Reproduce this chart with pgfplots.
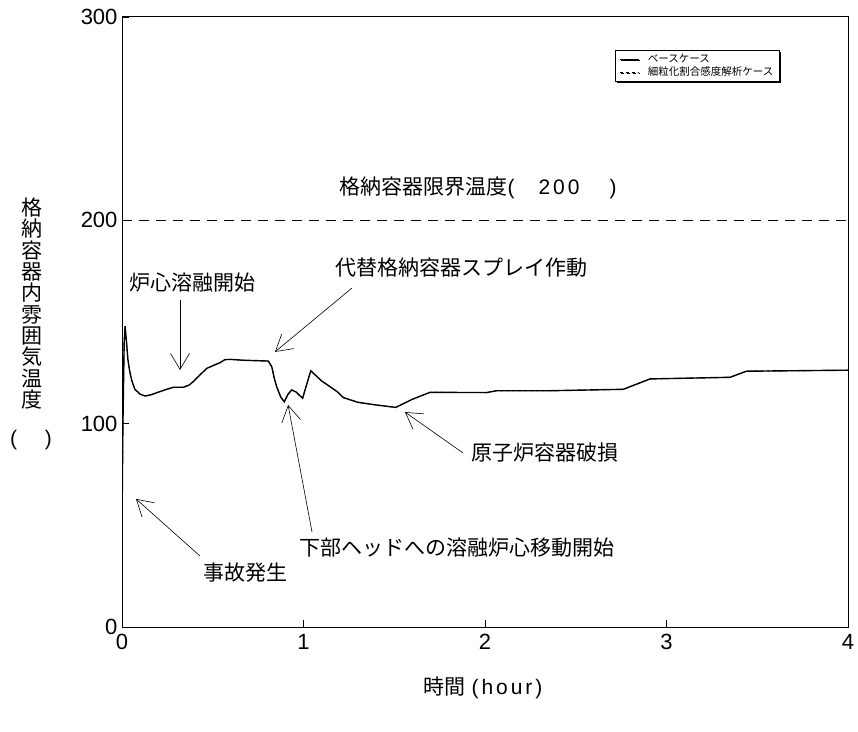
\documentclass[border=0pt]{standalone}
\usepackage{pgfplots}
\pgfplotsset{compat=1.18}
\usepackage{pgfplotstable}
\usepackage{fontspec}
\setmainfont{Liberation Sans}
\newfontfamily\jp{Noto Sans CJK JP}
\newfontfamily\lsfont[LetterSpace=14]{Liberation Sans}
\usetikzlibrary{arrows.meta,shadows}
\pgfplotstableread{
x y
0 50
0.005 100
0.012 140
0.017 148
0.025 140
0.032 132
0.042 126
0.053 121.5
0.07 117
0.1 114.5
0.127 113.6
0.16 114.2
0.2 115.5
0.25 117
0.283 117.9
0.338 117.9
0.37 119
0.393 120.7
0.43 124
0.467 127.2
0.5 128.5
0.54 130
0.567 131.5
0.6 131.6
0.668 131.2
0.806 130.8
0.825 128
0.84 122
0.852 118.2
0.875 113
0.894 110.8
0.915 114.5
0.935 116.6
0.96 115.5
0.995 112.5
1.02 120
1.04 126
1.07 123.5
1.1 121
1.146 118.2
1.186 115.7
1.22 112.8
1.3 110.5
1.4 109.2
1.508 108
1.6 112
1.697 115.4
2.009 115.3
2.064 116.2
2.358 116.2
2.762 116.9
2.909 122
3.35 122.8
3.44 125.8
4.0 126.3
}\base
\pgfplotstableread{
x y
0 50
0.005 100
0.012 140
0.017 148
0.025 140
0.032 132
0.042 126
0.053 121.5
0.07 117
0.1 114.5
0.127 113.6
0.16 114.2
0.2 115.5
0.25 117
0.283 117.9
0.338 117.9
0.37 119
0.393 120.7
0.43 124
0.467 127.2
0.5 128.5
0.54 130
0.567 131.5
0.6 131.6
0.668 131.2
0.806 130.8
0.825 128
0.84 122
0.852 118.2
0.875 113
0.894 110.8
0.915 114.5
0.935 116.6
0.96 115.5
0.995 112.5
1.02 120
1.04 126
1.07 123.5
1.1 121
1.146 118.2
1.186 115.7
1.22 112.8
1.3 110.5
1.4 109.2
1.508 108
1.6 112
1.697 115.4
2.009 115.3
2.064 116.2
2.358 116.2
2.762 116.9
2.909 122
3.35 122.8
3.44 125.8
4.0 126.3
}\sens
\begin{document}
\begin{tikzpicture}[x=1pt,y=1pt]
\path[use as bounding box] (0,0) rectangle (858,731);
\begin{axis}[
  at={(122pt,104pt)}, anchor=south west,
  scale only axis, width=726pt, height=610pt,
  xmin=0, xmax=4, ymin=0, ymax=300,
  xtick={0,1,2,3,4}, ytick={0,100,200,300},
  tick pos=left, tick align=inside, major tick length=7pt,
  tick style={line width=0.8pt, black},
  tick label style={font=\fontsize{22}{24}\selectfont},
  /pgf/number format/assume math mode=true,
  xticklabel style={yshift=-4pt},
  yticklabel style={xshift=-1pt},
  axis line style={line width=1pt},
  legend style={at={(0.906,0.946)}, anchor=north east,
    font=\jp\fontsize{10.5}{11}\selectfont, draw=black, line width=0.8pt,
    inner xsep=4pt, inner ysep=2pt, row sep=-1.5pt,
    /tikz/every odd column/.append style={column sep=7pt},
    drop shadow={shadow xshift=1.5pt, shadow yshift=-1.5pt, fill=black, opacity=1}},
  legend cell align=left,
  legend image code/.code={\draw[#1, line width=0.5pt] (0pt,0pt) -- (19pt,0pt);},
]
\addplot[black, line width=1.4pt] table[x=x,y=y] {\base};
\addlegendentry{ベースケース}
\addplot[black, line width=0.8pt, dash pattern=on 3pt off 3pt] table[x=x,y=y] {\sens};
\addlegendentry{細粒化割合感度解析ケース}
\addplot[black, line width=0.8pt, dash pattern=on 10pt off 7pt, forget plot] coordinates {(0,200) (4,200)};

% annotations
\tikzset{ann/.style={line width=0.6pt, -{Straight Barb[length=16pt,width=19pt,line width=0.6pt]}},
  lab/.style={font=\jp\fontsize{21}{23}\selectfont}}
\node[lab, anchor=west, inner sep=0pt] at (axis cs:1.198,215.9) {格納容器限界温度{\lsfont(\hspace{24pt}200\hspace{30pt})}};
\node[lab] at (axis cs:0.388,169.2) {炉心溶融開始};
\draw[ann] (axis cs:0.3196,160.8) -- (axis cs:0.3196,126.4);
\node[lab] at (axis cs:1.868,176.6) {代替格納容器スプレイ作動};
\draw[ann] (axis cs:1.267,166.7) -- (axis cs:0.843,135.3);
\node[lab] at (axis cs:1.848,38.9) {下部ヘッドへの溶融炉心移動開始};
\draw[ann] (axis cs:1.047,46.7) -- (axis cs:0.915,109.2);
\node[lab] at (axis cs:2.331,85.6) {原子炉容器破損};
\draw[ann] (axis cs:1.879,85.6) -- (axis cs:1.559,105.7);
\node[lab] at (axis cs:0.678,26.6) {事故発生};
\draw[ann] (axis cs:0.43,34.9) -- (axis cs:0.077,63);
\end{axis}
\node[font=\jp\fontsize{21}{21.3}\selectfont, align=center, inner sep=0pt] at (32,427.5)
  {格\\納\\容\\器\\内\\雰\\囲\\気\\温\\度};
\node[font=\fontsize{21}{23}\selectfont] at (31,291) {(\hspace{28pt})};
\node[font=\fontsize{21}{23}\selectfont] at (483,43) {{\jp 時間}\hspace{6pt}{\lsfont (hour)}};
\end{tikzpicture}
\end{document}
